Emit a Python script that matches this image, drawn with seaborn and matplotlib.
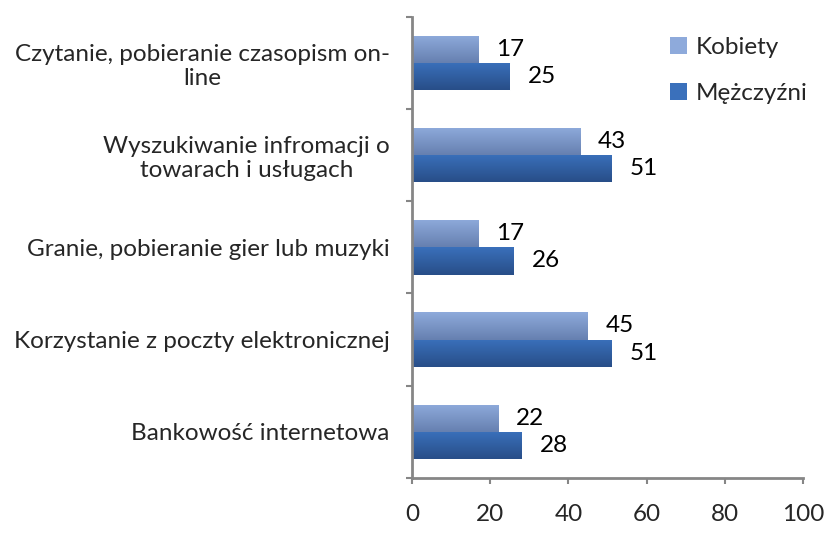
import numpy as np
import pandas as pd
import matplotlib
matplotlib.use("Agg")
import matplotlib.pyplot as plt
import seaborn as sns
from matplotlib.colors import LinearSegmentedColormap
from matplotlib.patches import Patch

categories = [
    "Czytanie, pobieranie czasopism on-\nline",
    "Wyszukiwanie infromacji o\ntowarach i usługach",
    "Granie, pobieranie gier lub muzyki",
    "Korzystanie z poczty elektronicznej",
    "Bankowość internetowa",
]
series_names = ["Kobiety", "Mężczyźni"]
kobiety = [17, 43, 17, 45, 22]
mezczyzni = [25, 51, 26, 51, 28]
x_ticks = [0, 20, 40, 60, 80, 100]

df = pd.DataFrame({
    "cat": categories * 2,
    "val": kobiety + mezczyzni,
    "series": [series_names[0]] * len(categories) + [series_names[1]] * len(categories),
})

sns.set_style("white")
plt.rcParams["font.family"] = ["Lato", "DejaVu Sans"]
FS = 17.5

top_colors = {"Kobiety": ("#8eaadb", "#6680b0"), "Mężczyźni": ("#3a70bb", "#284e88")}
palette = {k: v[0] for k, v in top_colors.items()}

fig = plt.figure(figsize=(8.27, 5.33), dpi=100)
ax = fig.add_axes([0.4982, 0.1032, 0.4728, 0.8656])
sns.barplot(data=df, y="cat", x="val", hue="series", order=categories,
            hue_order=series_names, palette=palette, width=0.59,
            orient="h", ax=ax, legend=False, saturation=1)

# gradient fill on bars
for i, p in enumerate(ax.patches):
    name = series_names[i // len(categories)]
    c1, c2 = top_colors[name]
    cmap = LinearSegmentedColormap.from_list("g", [c1, c2])
    b = p.get_bbox()
    grad = np.linspace(0, 1, 64).reshape(-1, 1)
    im = ax.imshow(grad, cmap=cmap, aspect="auto",
                   extent=[b.x0, b.x1, b.y1, b.y0], origin="upper", zorder=p.get_zorder() + 0.1)
    im.set_clip_path(p)

ax.set_xlim(0, 100)
ax.set_ylim(len(categories) - 0.5, -0.5)

# value labels
for c, container in enumerate(ax.containers):
    vals = kobiety if c == 0 else mezczyzni
    ax.bar_label(container, labels=[str(v) for v in vals], padding=13, fontsize=FS, color="#000000")

ax.set_xlabel("")
ax.set_ylabel("")
ax.set_xticks(x_ticks)
ax.set_xticklabels([str(t) for t in x_ticks], fontsize=FS)
ax.set_yticks(np.arange(len(categories)))
ax.set_yticklabels(categories, fontsize=FS, multialignment="center")
ax.tick_params(axis="y", which="major", left=False, length=0, pad=16)
ax.tick_params(axis="x", bottom=True, length=4.5, width=1.5, color="#868686", pad=14.5, direction="out")

# minor ticks between categories on y axis
ax.set_yticks(np.arange(-0.5, len(categories), 1), minor=True)
ax.tick_params(axis="y", which="minor", left=True, length=4.5, width=1.5, color="#868686", direction="out")

for s in ["top", "right"]:
    ax.spines[s].set_visible(False)
for s in ["left", "bottom"]:
    ax.spines[s].set_color("#868686")
    ax.spines[s].set_linewidth(2)

handles = [Patch(facecolor=top_colors[n][0], edgecolor="none") for n in series_names]
fig.legend(handles, series_names, loc="upper left", bbox_to_anchor=(0.796, 0.953),
           frameon=False, fontsize=FS, handlelength=0.7, handleheight=0.7,
           handletextpad=0.35, labelspacing=1.0, borderpad=0)

fig.savefig("out.png", dpi=100)
